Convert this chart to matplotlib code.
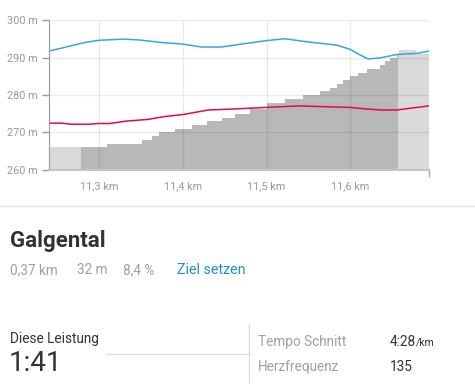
import matplotlib.pyplot as plt
from matplotlib.patches import Rectangle

plt.rcParams['font.family'] = ['Roboto', 'DejaVu Sans']

# elevation profile (step heights, m) over distance (km)
elev_km = [11.2400, 11.3096, 11.3507, 11.3626, 11.3717, 11.3904, 11.4104, 11.4283,
           11.4462, 11.4621, 11.4800, 11.5000, 11.5219, 11.5437, 11.5637, 11.5756,
           11.5836, 11.5916, 11.5996, 11.6095, 11.6195, 11.6354, 11.6414, 11.6473,
           11.6553, 11.6581, 11.6784, 11.6940]
elev_m = [266, 267, 268, 269, 270, 271, 272, 273,
          274, 275, 276.2, 278, 279, 280, 281, 282,
          283, 284, 285, 286, 287, 288, 289, 290,
          291, 292, 291, 291]

# segment bounds (km)
seg_start, seg_end = 11.2778, 11.6557

# blue line
blue_km = [11.2399, 11.2829, 11.3000, 11.3287, 11.3466, 11.3746, 11.3984, 11.4223,
           11.4462, 11.4741, 11.5000, 11.5219, 11.5478, 11.5836, 11.5996, 11.6115,
           11.6214, 11.6354, 11.6553, 11.6792, 11.6939]
blue_m = [291.7, 294.0, 294.6, 294.9, 294.7, 294.0, 293.6, 292.8,
          292.8, 293.7, 294.5, 295.0, 294.2, 293.3, 292.2, 290.7,
          289.6, 289.9, 290.8, 291.1, 291.7]

# red line
red_km = [11.2400, 11.2551, 11.2670, 11.2869, 11.2988, 11.3128, 11.3307, 11.3585,
          11.3765, 11.4004, 11.4302, 11.4642, 11.5000, 11.5398, 11.5657, 11.5996,
          11.6175, 11.6374, 11.6553, 11.6940]
red_m = [272.5, 272.5, 272.2, 272.2, 272.4, 272.4, 273.0, 273.5,
         274.2, 274.8, 276.0, 276.3, 276.7, 277.1, 276.9, 276.7,
         276.3, 276.0, 276.0, 277.1]

xticks = [11.3, 11.4, 11.5, 11.6]
xtick_labels = ['11,3 km', '11,4 km', '11,5 km', '11,6 km']
yticks = [260, 270, 280, 290, 300]
ytick_labels = ['260 m', '270 m', '280 m', '290 m', '300 m']

W, H = 475, 391
fig = plt.figure(figsize=(W / 100, H / 100), dpi=100)


def fx(x):
    return x / W


def fy(y):
    return 1 - y / H


ax = fig.add_axes([fx(49), fy(170), fx(429) - fx(49), fy(20) - fy(170)])
ax.set_xlim(elev_km[0], elev_km[-1])
ax.set_ylim(260, 300)

# elevation: light everywhere, darker inside the segment
ax.fill_between(elev_km, elev_m, 260, step='post', color='#d9d9d9', lw=0, zorder=1)
dark = ax.fill_between(elev_km, elev_m, 260, step='post', color='#b8b8b8', lw=0, zorder=2)
clip = Rectangle((seg_start, 250), seg_end - seg_start, 60, transform=ax.transData)
dark.set_clip_path(clip)

ax.plot(blue_km, blue_m, color='#35a6e2', lw=1.1, zorder=4)
ax.plot(red_km, red_m, color='#de0a55', lw=1.1, zorder=4)

ax.set_xticks(xticks)
ax.set_xticklabels(xtick_labels)
ax.set_xticks([elev_km[-1]], minor=True)
ax.set_yticks(yticks)
ax.set_yticklabels(ytick_labels)
ax.grid(True, color='black', alpha=0.08, lw=1)
ax.set_axisbelow(False)
for gl in ax.get_xgridlines() + ax.get_ygridlines():
    gl.set_zorder(3)

ax.tick_params(axis='x', which='major', length=0, pad=8, labelsize=7.8, labelcolor='#999999')
ax.tick_params(axis='x', which='minor', length=5, color='#aaaaaa', width=1)
ax.tick_params(axis='y', length=5, color='#999999', width=1, pad=3, labelsize=7.8,
               labelcolor='#999999')
for s in ['top', 'right']:
    ax.spines[s].set_visible(False)
ax.spines['left'].set_color('#999999')
ax.spines['bottom'].set_color('#c4c4c4')
ax.spines['bottom'].set_linewidth(1.5)
ax.spines['left'].set_zorder(5)
ax.spines['bottom'].set_zorder(5)

# separator under the chart
fig.add_artist(plt.Line2D([0, 1], [fy(206), fy(206)], color='#e2e2ea', lw=1))

fig.text(fx(10), fy(246.5), 'Galgental', fontsize=16, fontweight='bold',
         color='#333333', va='baseline')
fig.text(fx(10), fy(274), '0,37 km', fontsize=9.8, color='#a0a0a0', va='baseline')
fig.text(fx(77), fy(274), '32 m', fontsize=9.8, color='#a0a0a0', va='baseline')
fig.text(fx(123), fy(274), '8,4 %', fontsize=9.8, color='#a0a0a0', va='baseline')
fig.text(fx(177), fy(274), 'Ziel setzen', fontsize=10.3, color='#1b8fc8', va='baseline')

fig.text(fx(10), fy(343.3), 'Diese Leistung', fontsize=9.8, color='#333333', va='baseline')
fig.text(fx(9), fy(370.7), '1:41', fontsize=20, fontweight='normal', color='#333333',
         va='baseline')
fig.add_artist(plt.Line2D([fx(106), fx(248)], [fy(354.3), fy(354.3)], color='#dcdce4', lw=1))
fig.add_artist(plt.Line2D([fx(248.5), fx(248.5)], [fy(324), fy(382)], color='#dcdce4', lw=1))

fig.text(fx(258), fy(345.7), 'Tempo Schnitt', fontsize=9.8, color='#a0a0a0', va='baseline')
fig.text(fx(258), fy(370.7), 'Herzfrequenz', fontsize=9.8, color='#a0a0a0', va='baseline')
fig.text(fx(390), fy(345.7), '4:28', fontsize=9.8, color='#333333', va='baseline')
fig.text(fx(416), fy(345.7), '/km', fontsize=7.5, color='#333333', va='baseline')
fig.text(fx(390), fy(370.7), '135', fontsize=9.8, color='#333333', va='baseline')

fig.savefig('out.png', dpi=100)
